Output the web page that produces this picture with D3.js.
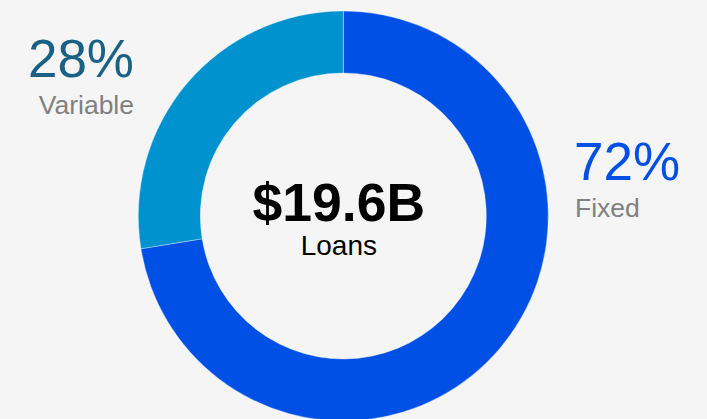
<!DOCTYPE html>
<html>
<head>
<meta charset="utf-8">
<script src="https://cdn.jsdelivr.net/npm/d3@7"></script>
<style>
  html, body { margin: 0; padding: 0; background: #f5f5f5; }
  svg { display: block; font-family: Arial, "Liberation Sans", sans-serif; }
</style>
</head>
<body>
<script>
// loan split in $B
const categories = ['Fixed', 'Variable'];
const values = [14.2, 5.4];
const colors = ['#0050e6', '#0092cf'];
const pctColors = ['#0050e6', '#1b6185'];
const totalLabel = '$19.6B';
const centerLabel = 'Loans';

const width = 707;
const height = 419;
const cx = 343.3;
const cy = 216;

const svg = d3.select('body')
  .append('svg')
  .attr('width', width)
  .attr('height', height);

svg.append('rect')
  .attr('width', width)
  .attr('height', height)
  .attr('fill', '#f5f5f5');

const pie = d3.pie().sort(null).value(d => d);
const arc = d3.arc().innerRadius(143).outerRadius(205);

const g = svg.append('g')
  .attr('transform', `translate(${cx}, ${cy})`);

g.selectAll('path')
  .data(pie(values))
  .enter()
  .append('path')
  .attr('d', arc)
  .attr('fill', (d, i) => colors[i])
  .attr('stroke', '#ffffff')
  .attr('stroke-opacity', 0.6)
  .attr('stroke-width', 0.6);

// centre text
g.append('text')
  .attr('x', -4.5)
  .attr('y', 5)
  .attr('text-anchor', 'middle')
  .attr('font-size', 53.5)
  .attr('font-weight', 'bold')
  .attr('fill', '#000')
  .text(totalLabel);

g.append('text')
  .attr('x', -4.5)
  .attr('y', 39)
  .attr('text-anchor', 'middle')
  .attr('font-size', 28)
  .attr('fill', '#000')
  .text(centerLabel);

const total = d3.sum(values);
const pct = values.map(v => Math.round(v / total * 100) + '%');

// side labels: Fixed on the right, Variable top-left
const labelPos = [
  { x: 574, y: 180, anchor: 'start' },
  { x: 134, y: 77, anchor: 'end' }
];

labelPos.forEach((p, i) => {
  svg.append('text')
    .attr('x', p.x)
    .attr('y', p.y)
    .attr('text-anchor', p.anchor)
    .attr('font-size', 53)
    .attr('fill', pctColors[i])
    .text(pct[i]);
  svg.append('text')
    .attr('x', p.anchor === 'start' ? p.x + 1 : p.x)
    .attr('y', p.y + 37)
    .attr('text-anchor', p.anchor)
    .attr('font-size', 26.5)
    .attr('fill', '#808080')
    .text(categories[i]);
});
</script>
</body>
</html>
